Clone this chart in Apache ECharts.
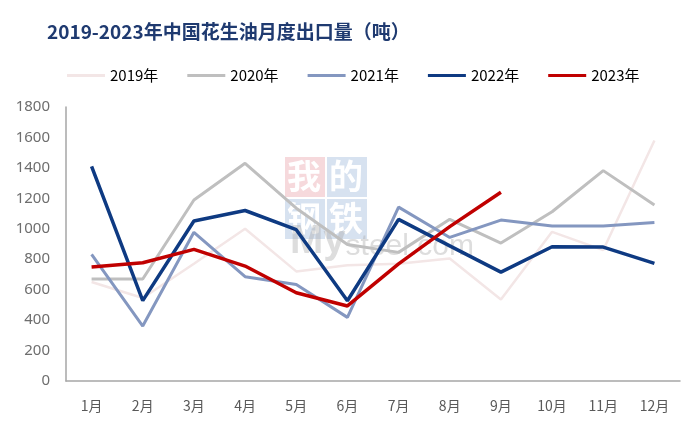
<!DOCTYPE html>
<html>
<head>
<meta charset="utf-8">
<script src="https://cdn.jsdelivr.net/npm/echarts@6/dist/echarts.min.js"></script>
<style>html,body{margin:0;padding:0;background:#fff}#c{width:700px;height:430px}</style>
</head>
<body>
<div id="c"></div>
<script>
var months = ['1月','2月','3月','4月','5月','6月','7月','8月','9月','10月','11月','12月'];
var seriesNames = ['2019年','2020年','2021年','2022年','2023年'];
var y2019 = [650, 545, 770, 1000, 720, 760, 770, 805, 535, 980, 860, 1580];
var y2020 = [670, 670, 1189, 1430, 1135, 897, 845, 1062, 906, 1112, 1382, 1156];
var y2021 = [832, 361, 977, 685, 634, 418, 1142, 943, 1057, 1018, 1018, 1042];
var y2022 = [1410, 528, 1051, 1120, 994, 527, 1062, 888, 715, 882, 880, 773];
var y2023 = [749, 777, 865, 755, 580, 493, 769, 1014, 1240];
var yTicks = {min: 0, max: 1800, interval: 200};

var colors = ['#f3e6e6', '#bfbfbf', '#8497c0', '#0e3a82', '#c00000'];
var widths = [2.5, 3, 3, 3.5, 3.5];
var datas = [y2019, y2020, y2021, y2022, y2023];

var chart = echarts.init(document.getElementById('c'), null, {renderer: 'canvas'});
var series = seriesNames.map(function (n, i) {
  return {
    name: n, type: 'line', data: datas[i], symbol: 'none', smooth: false,
    lineStyle: {color: colors[i], width: widths[i]}, itemStyle: {color: colors[i]},
    z: 3 + i
  };
});
chart.setOption({
  animation: false,
  backgroundColor: '#ffffff',
  title: {
    text: '2019-2023年中国花生油月度出口量（吨）',
    left: 42, top: 17,
    textStyle: {fontSize: 19, fontWeight: 'bold', color: '#1f3a70', fontFamily: 'Noto Sans CJK SC'}
  },
  legend: {
    data: seriesNames, left: 62, top: 63,
    icon: 'rect', itemWidth: 38, itemHeight: 3, itemGap: 29,
    textStyle: {fontSize: 15, color: '#000', fontFamily: 'Noto Sans CJK SC'}
  },
  graphic: [
    {type: 'rect', shape: {x: 285, y: 157, width: 40, height: 40}, style: {fill: '#f0c0c4', opacity: 0.6}, z: 1, silent: true},
    {type: 'rect', shape: {x: 327, y: 157, width: 40, height: 40}, style: {fill: '#bccfe6', opacity: 0.6}, z: 1, silent: true},
    {type: 'rect', shape: {x: 285, y: 199, width: 40, height: 40}, style: {fill: '#bccfe6', opacity: 0.6}, z: 1, silent: true},
    {type: 'rect', shape: {x: 327, y: 199, width: 40, height: 40}, style: {fill: '#bccfe6', opacity: 0.6}, z: 1, silent: true},
    {type: 'text', x: 287, y: 159, style: {text: '我', font: 'bold 34px "Noto Sans CJK SC"', fill: '#ffffff'}, z: 2, silent: true},
    {type: 'text', x: 329, y: 159, style: {text: '的', font: 'bold 34px "Noto Sans CJK SC"', fill: '#ffffff'}, z: 2, silent: true},
    {type: 'text', x: 287, y: 201, style: {text: '钢', font: 'bold 34px "Noto Sans CJK SC"', fill: '#ffffff'}, z: 2, silent: true},
    {type: 'text', x: 329, y: 201, style: {text: '铁', font: 'bold 34px "Noto Sans CJK SC"', fill: '#ffffff'}, z: 2, silent: true},
    {type: 'text', x: 290, y: 222, style: {
      text: '{a|My}{b|steel.com}',
      rich: {
        a: {font: 'bold 40px "Liberation Sans"', fill: '#aaaaaa', verticalAlign: 'bottom'},
        b: {font: '30px "Liberation Sans"', fill: '#aaaaaa', verticalAlign: 'bottom'}
      },
      opacity: 0.4
    }, z: 2, silent: true}
  ],
  grid: {left: 66, right: 20, top: 107, bottom: 49, containLabel: false},
  xAxis: {
    type: 'category', data: months, boundaryGap: true,
    axisLine: {show: true, lineStyle: {color: '#a6a6a6', width: 1.5}},
    axisTick: {show: false},
    axisLabel: {color: '#595959', fontSize: 14, margin: 18, fontFamily: 'Noto Sans CJK SC', interval: 0}
  },
  yAxis: {
    type: 'value', min: yTicks.min, max: yTicks.max, interval: yTicks.interval,
    axisLine: {show: true, lineStyle: {color: '#a6a6a6', width: 1.5}},
    axisTick: {show: false},
    splitLine: {show: false},
    axisLabel: {color: '#6e6e6e', fontSize: 15, margin: 16, fontFamily: 'Noto Sans',
      formatter: function (v) { return String(v); }}
  },
  series: series
});
</script>
</body>
</html>
